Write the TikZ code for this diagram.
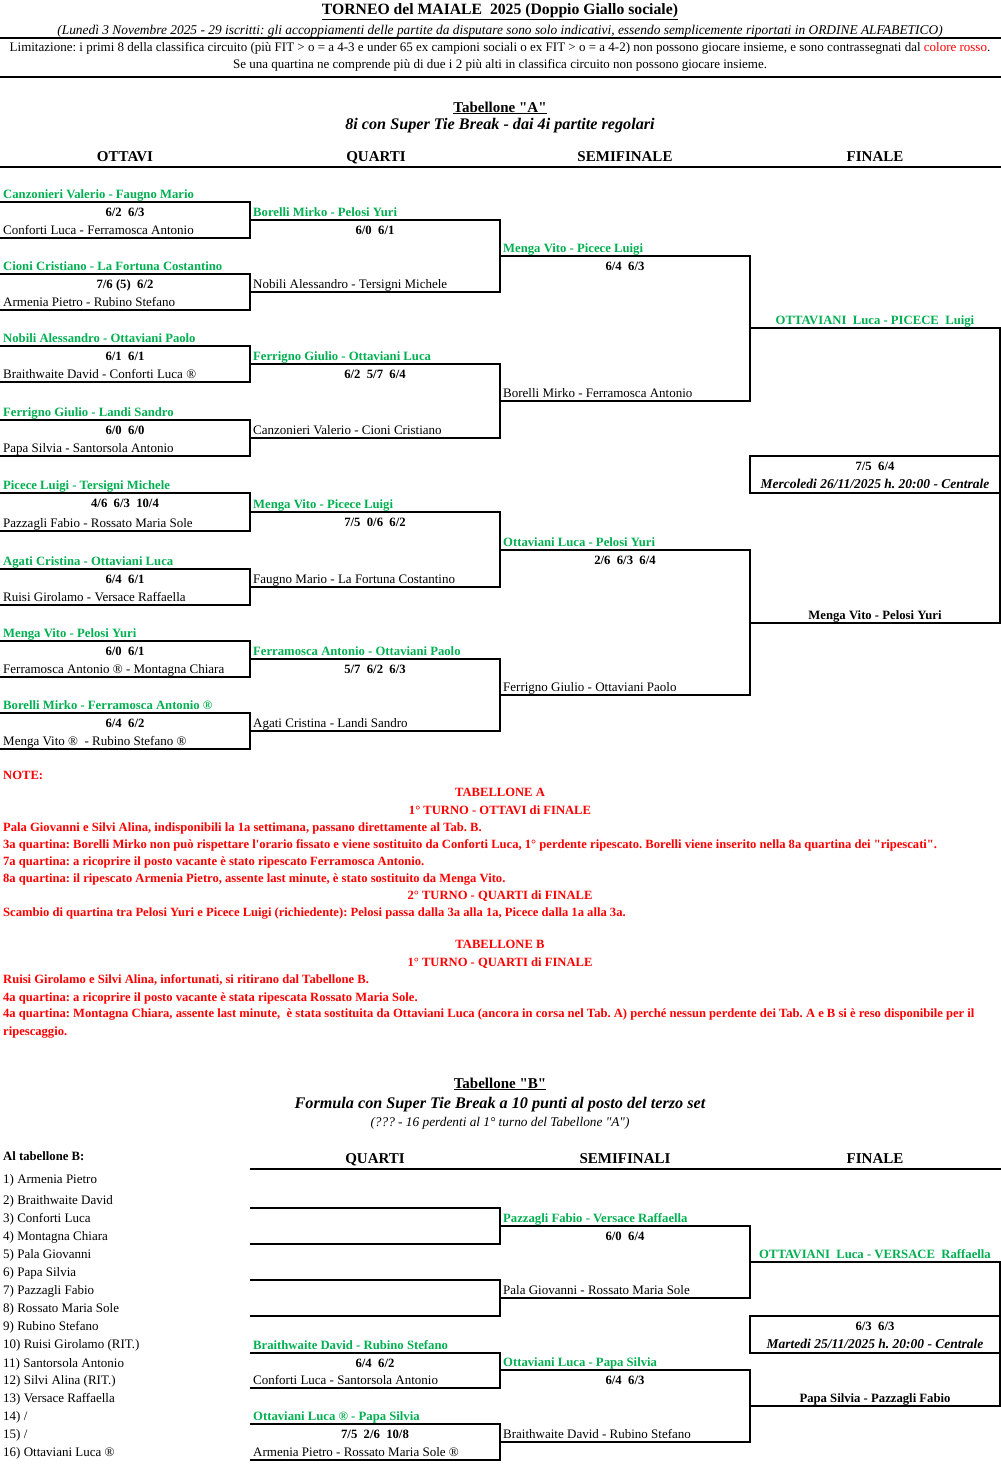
\documentclass[tikz,border=0pt]{standalone}
\usepackage{fontspec}
\setmainfont{Liberation Serif}[Ligatures=TeXOff]
\definecolor{wgreen}{HTML}{00B050}
\definecolor{nred}{HTML}{FF0000}
\newcommand{\fsN}{\fontsize{13}{15}\selectfont}
\newcommand{\fsB}{\fontsize{12.7}{15}\selectfont}
\newcommand{\fsH}{\fontsize{15}{17}\selectfont}
\newcommand{\bracketbox}[7]{%
  \draw[br] (#2,#3) -- ({#2+250},#3) -- ({#2+250},#4) -- (#2,#4);
  \node[wn] (#1w) at ({#2+3},{#3-4}) {#5};
  \node[sc] (#1s) at ({#2+125},{#3+14}) {#6};
  \node[nm] (#1b) at ({#2+3},{#4-4}) {#7};
}
\newcommand{\finalbox}[8]{%
  \draw[br] (750,#2) -- (1000,#2) -- (1000,#3) -- (750,#3);
  \draw[br] (750,#4) rectangle (1000,{#4+37});
  \node[sc, text=wgreen] (#1w) at (875,{#2-4}) {#5};
  \node[sc] (#1s) at (875,{#4+14}) {#6};
  \node[sc, font=\fontsize{13.5}{15}\selectfont\bfseries\itshape] (#1d) at (875,{#4+32}) {#7};
  \node[sc] (#1b) at (875,{#3-4}) {#8};
}
\begin{document}
\frenchspacing
\begin{tikzpicture}[x=1pt,y=-1pt,
  br/.style={line width=1.8pt},
  rule/.style={line width=2pt},
  nm/.style={anchor=base west, inner sep=0pt, font=\fsN},
  wn/.style={nm, text=wgreen, font=\fsB\bfseries},
  sc/.style={anchor=base, inner sep=0pt, font=\fsB\bfseries},
  hd/.style={anchor=base, inner sep=0pt, font=\fsH\bfseries},
  hdi/.style={anchor=base, inner sep=0pt, font=\fontsize{16.2}{18}\selectfont\bfseries\itshape},
  note/.style={anchor=base west, inner sep=0pt, text=nred, font=\fontsize{12.6}{15}\selectfont\bfseries},
  notec/.style={note, anchor=base}]
\useasboundingbox (0,0) rectangle (1001,1478);

% ---------- header ----------
\node[anchor=base, inner sep=0pt, font=\fontsize{15.7}{18}\selectfont\bfseries] (title) at (500,14.5) {\underline{TORNEO del MAIALE~~2025 (Doppio Giallo sociale)}};
\node[anchor=base, inner sep=0pt, font=\fontsize{13.4}{15}\selectfont\itshape] (sub) at (500,34) {(Lunedì 3 Novembre 2025 - 29 iscritti: gli accoppiamenti delle partite da disputare sono solo indicativi, essendo semplicemente riportati in ORDINE ALFABETICO)};
\draw[rule] (0,38) -- (1001,38);
\node[anchor=base, inner sep=0pt, font=\fsN] (lim1) at (500,51.5) {Limitazione: i primi 8 della classifica circuito (più FIT > o = a 4-3 e under 65 ex campioni sociali o ex FIT > o = a 4-2) non possono giocare insieme, e sono contrassegnati dal \textcolor{nred}{colore rosso}.};
\node[anchor=base, inner sep=0pt, font=\fsN] (lim2) at (500,68.5) {Se una quartina ne comprende più di due i 2 più alti in classifica circuito non possono giocare insieme.};
\draw[rule] (0,77) -- (1001,77);

% ---------- Tabellone A ----------
\node[hd] (tA) at (500,112) {\underline{Tabellone "A"}};
\node[hdi] (tAsub) at (500,129) {8i con Super Tie Break - dai 4i partite regolari};
\node[hd] (hA1) at (125,161) {OTTAVI};
\node[hd] (hA2) at (376,161) {QUARTI};
\node[hd] (hA3) at (625,161) {SEMIFINALE};
\node[hd] (hA4) at (875,161) {FINALE};
\draw[rule] (0,167) -- (1001,167);

\bracketbox{o1}{0}{202}{238}{Canzonieri Valerio - Faugno Mario}{6/2~~6/3}{Conforti Luca - Ferramosca Antonio}
\bracketbox{o2}{0}{274}{310}{Cioni Cristiano - La Fortuna Costantino}{7/6 (5)~~6/2}{Armenia Pietro - Rubino Stefano}
\bracketbox{o3}{0}{346}{382}{Nobili Alessandro - Ottaviani Paolo}{6/1~~6/1}{Braithwaite David - Conforti Luca ®}
\bracketbox{o4}{0}{420}{456}{Ferrigno Giulio - Landi Sandro}{6/0~~6/0}{Papa Silvia - Santorsola Antonio}
\bracketbox{o5}{0}{493}{531}{Picece Luigi - Tersigni Michele}{4/6~~6/3~~10/4}{Pazzagli Fabio - Rossato Maria Sole}
\bracketbox{o6}{0}{569}{605}{Agati Cristina - Ottaviani Luca}{6/4~~6/1}{Ruisi Girolamo - Versace Raffaella}
\bracketbox{o7}{0}{641}{677}{Menga Vito - Pelosi Yuri}{6/0~~6/1}{Ferramosca Antonio ® - Montagna Chiara}
\bracketbox{o8}{0}{713}{749}{Borelli Mirko - Ferramosca Antonio ®}{6/4~~6/2}{Menga Vito ®~~- Rubino Stefano ®}

\bracketbox{q1}{250}{220}{292}{Borelli Mirko - Pelosi Yuri}{6/0~~6/1}{Nobili Alessandro - Tersigni Michele}
\bracketbox{q2}{250}{364}{438}{Ferrigno Giulio - Ottaviani Luca}{6/2~~5/7~~6/4}{Canzonieri Valerio - Cioni Cristiano}
\bracketbox{q3}{250}{512}{587}{Menga Vito - Picece Luigi}{7/5~~0/6~~6/2}{Faugno Mario - La Fortuna Costantino}
\bracketbox{q4}{250}{659}{731}{Ferramosca Antonio - Ottaviani Paolo}{5/7~~6/2~~6/3}{Agati Cristina - Landi Sandro}

\bracketbox{s1}{500}{256}{401}{Menga Vito - Picece Luigi}{6/4~~6/3}{Borelli Mirko - Ferramosca Antonio}
\bracketbox{s2}{500}{550}{695}{Ottaviani Luca - Pelosi Yuri}{2/6~~6/3~~6/4}{Ferrigno Giulio - Ottaviani Paolo}

\finalbox{fA}{328}{623}{456}{OTTAVIANI~~Luca - PICECE~~Luigi}{7/5~~6/4}{Mercoledi 26/11/2025 h. 20:00 - Centrale}{Menga Vito - Pelosi Yuri}

% ---------- Notes ----------
\node[note] (n0) at (3,779.5) {NOTE:};
\node[notec] (n1) at (500,796.5) {TABELLONE A};
\node[notec] (n2) at (500,814) {1° TURNO - OTTAVI di FINALE};
\node[note] (n3) at (3,831.5) {Pala Giovanni e Silvi Alina, indisponibili la 1a settimana, passano direttamente al Tab. B.};
\node[note] (n4) at (3,848.5) {3a quartina: Borelli Mirko non può rispettare l'orario fissato e viene sostituito da Conforti Luca, 1° perdente ripescato. Borelli viene inserito nella 8a quartina dei "ripescati".};
\node[note] (n5) at (3,865.5) {7a quartina: a ricoprire il posto vacante è stato ripescato Ferramosca Antonio.};
\node[note] (n6) at (3,882.5) {8a quartina: il ripescato Armenia Pietro, assente last minute, è stato sostituito da Menga Vito.};
\node[notec] (n7) at (500,899.5) {2° TURNO - QUARTI di FINALE};
\node[note] (n8) at (3,916.5) {Scambio di quartina tra Pelosi Yuri e Picece Luigi (richiedente): Pelosi passa dalla 3a alla 1a, Picece dalla 1a alla 3a.};
\node[notec] (n9) at (500,948.5) {TABELLONE B};
\node[notec] (n10) at (500,966) {1° TURNO - QUARTI di FINALE};
\node[note] (n11) at (3,983.5) {Ruisi Girolamo e Silvi Alina, infortunati, si ritirano dal Tabellone B.};
\node[note] (n12) at (3,1001) {4a quartina: a ricoprire il posto vacante è stata ripescata Rossato Maria Sole.};
\node[note] (n13) at (3,1017.5) {4a quartina: Montagna Chiara, assente last minute,~~è stata sostituita da Ottaviani Luca (ancora in corsa nel Tab. A) perché nessun perdente dei Tab. A e B si è reso disponibile per il};
\node[note] (n14) at (3,1035) {ripescaggio.};

% ---------- Tabellone B ----------
\node[hd] (tB) at (500,1088) {\underline{Tabellone "B"}};
\node[hdi] (tBsub) at (500,1108) {Formula con Super Tie Break a 10 punti al posto del terzo set};
\node[anchor=base, inner sep=0pt, font=\fontsize{13.3}{15}\selectfont\itshape] (tBsub2) at (500,1126) {(??? - 16 perdenti al 1° turno del Tabellone "A")};
\node[anchor=base west, inner sep=0pt, font=\fsB\bfseries] (alB) at (3,1160.5) {Al tabellone B:};
\node[hd] (hB2) at (375,1163) {QUARTI};
\node[hd] (hB3) at (625,1163) {SEMIFINALI};
\node[hd] (hB4) at (875,1163) {FINALE};
\draw[rule] (250,1169) -- (1001,1169);

\foreach \i/\yy/\txt in {1/1183.5/{1) Armenia Pietro}, 2/1204.5/{2) Braithwaite David}, 3/1222.5/{3) Conforti Luca}, 4/1240.5/{4) Montagna Chiara}, 5/1258.5/{5) Pala Giovanni}, 6/1276.5/{6) Papa Silvia}, 7/1294.5/{7) Pazzagli Fabio}, 8/1312.5/{8) Rossato Maria Sole}, 9/1330.5/{9) Rubino Stefano}, 10/1348.5/{10) Ruisi Girolamo (RIT.)}, 11/1367.5/{11) Santorsola Antonio}, 12/1384.5/{12) Silvi Alina (RIT.)}, 13/1402.5/{13) Versace Raffaella}, 14/1420.5/{14) /}, 15/1438.5/{15) /}, 16/1456.5/{16) Ottaviani Luca ®}}
  \node[nm] (li\i) at (3,\yy) {\txt};

\bracketbox{bq1}{250}{1208}{1244}{}{}{}
\bracketbox{bq2}{250}{1280}{1316}{}{}{}
\bracketbox{bq3}{250}{1353}{1388}{Braithwaite David - Rubino Stefano}{6/4~~6/2}{Conforti Luca - Santorsola Antonio}
\bracketbox{bq4}{250}{1424}{1460}{Ottaviani Luca ® - Papa Silvia}{7/5~~2/6~~10/8}{Armenia Pietro - Rossato Maria Sole ®}

\bracketbox{bs1}{500}{1226}{1298}{Pazzagli Fabio - Versace Raffaella}{6/0~~6/4}{Pala Giovanni - Rossato Maria Sole}
\bracketbox{bs2}{500}{1370}{1442}{Ottaviani Luca - Papa Silvia}{6/4~~6/3}{Braithwaite David - Rubino Stefano}

\finalbox{fB}{1262}{1406}{1316}{OTTAVIANI~~Luca - VERSACE~~Raffaella}{6/3~~6/3}{Martedi 25/11/2025 h. 20:00 - Centrale}{Papa Silvia - Pazzagli Fabio}
\end{tikzpicture}
\end{document}
